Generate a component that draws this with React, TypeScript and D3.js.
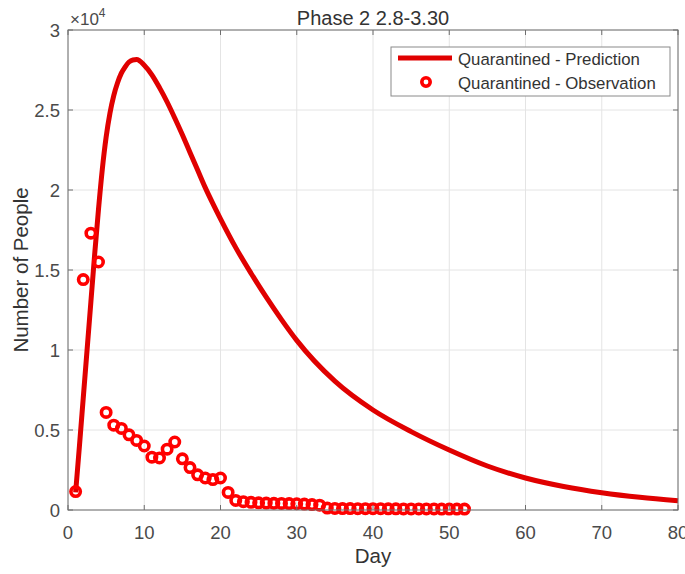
import React from "react";
import * as d3 from "d3";

// ---- data ----
const predDays = [1, 1.5, 2, 2.5, 3, 3.5, 4, 4.5, 5, 5.5, 6, 6.5, 7, 7.5, 8, 8.5, 9, 10, 11, 12, 13, 14, 15, 16, 17, 18, 19, 20, 22, 24, 26, 28, 30, 35, 40, 45, 50, 55, 60, 65, 70, 75, 80];
const predValues = [1100, 4000, 7000, 10000, 13000, 16000, 18800, 21300, 23300, 24800, 25900, 26700, 27300, 27700, 28000, 28130, 28150, 27800, 27200, 26400, 25500, 24500, 23450, 22350, 21250, 20150, 19150, 18200, 16400, 14800, 13300, 11900, 10600, 8050, 6250, 4900, 3750, 2750, 2000, 1470, 1080, 790, 580];

const obsDays = d3.range(1, 53);
const obsValues = [
  1150, 14400, 17300, 15500, 6100, 5300, 5100, 4700, 4350, 4000,
  3300, 3250, 3800, 4250, 3200, 2650, 2200, 2000, 1900, 2000,
  1100, 600, 520, 480, 450, 430, 420, 410, 400, 390,
  370, 340, 300, 120, 100, 90, 90, 85, 85, 80,
  80, 75, 75, 70, 70, 70, 65, 65, 60, 60,
  60, 60,
];

const xTicks = [0, 10, 20, 30, 40, 50, 60, 70, 80];
const yTicks = [0, 5000, 10000, 15000, 20000, 25000, 30000];
const yTickLabels = ["0", "0.5", "1", "1.5", "2", "2.5", "3"];

const titleText = "Phase 2 2.8-3.30";
const xLabel = "Day";
const yLabel = "Number of People";
const legendLabels = ["Quarantined - Prediction", "Quarantined - Observation"];

// ---- layout ----
const W = 685, H = 574;
const L = 68, R = 678, T = 30, B = 510;
const FONT = "'Liberation Sans', Arial, Helvetica, sans-serif";
const AX = "#6e6e6e";
const TXT = "#4a4a4a";
const LINE_RED = "#e00000";
const OBS_RED = "#ff0000";

export default function App() {
  const x = d3.scaleLinear().domain([0, 80]).range([L, R]);
  const y = d3.scaleLinear().domain([0, 30000]).range([B, T]);
  const line = d3
    .line<number>()
    .x((_, i) => x(predDays[i]))
    .y((d) => y(d))
    .curve(d3.curveMonotoneX);
  const tick = 5;

  return (
    <svg width={W} height={H} style={{ position: "absolute", left: 0, top: 0, background: "#fff" }} fontFamily={FONT}>
      <rect x={0} y={0} width={W} height={H} fill="#fff" />
      {/* grid */}
      {xTicks.map((t) => (
        <line key={"gx" + t} x1={x(t)} x2={x(t)} y1={T} y2={B} stroke="#e4e4e4" strokeWidth={1} />
      ))}
      {yTicks.map((t) => (
        <line key={"gy" + t} x1={L} x2={R} y1={y(t)} y2={y(t)} stroke="#e4e4e4" strokeWidth={1} />
      ))}
      {/* prediction */}
      <path d={line(predValues) || ""} fill="none" stroke={LINE_RED} strokeWidth={5} strokeLinejoin="round" />
      {/* observations */}
      {obsValues.map((v, i) => (
        <circle key={"o" + i} cx={x(obsDays[i])} cy={y(v)} r={4.7} fill="none" stroke={OBS_RED} strokeWidth={3.6} />
      ))}
      {/* box and ticks */}
      <rect x={L} y={T} width={R - L} height={B - T} fill="none" stroke={AX} strokeWidth={1} />
      {xTicks.map((t) => (
        <g key={"tx" + t}>
          <line x1={x(t)} x2={x(t)} y1={B} y2={B - tick} stroke={AX} />
          <line x1={x(t)} x2={x(t)} y1={T} y2={T + tick} stroke={AX} />
          <text x={x(t)} y={538.5} textAnchor="middle" fontSize={18.5} fill={TXT}>{t}</text>
        </g>
      ))}
      {yTicks.map((t, i) => (
        <g key={"ty" + t}>
          <line x1={L} x2={L + tick} y1={y(t)} y2={y(t)} stroke={AX} />
          <line x1={R} x2={R - tick} y1={y(t)} y2={y(t)} stroke={AX} />
          <text x={60} y={y(t) + 6.5} textAnchor="end" fontSize={18.5} fill={TXT}>{yTickLabels[i]}</text>
        </g>
      ))}
      {/* exponent */}
      <text x={70} y={25} fontSize={17} fill={TXT}>
        ×10<tspan dy={-8} fontSize={12}>4</tspan>
      </text>
      {/* title & labels */}
      <text x={(L + R) / 2} y={25} textAnchor="middle" fontSize={20} fill="#333">{titleText}</text>
      <text x={(L + R) / 2} y={563} textAnchor="middle" fontSize={20.5} fill="#333">{xLabel}</text>
      <text transform={`translate(28,${(T + B) / 2}) rotate(-90)`} textAnchor="middle" fontSize={20.5} fill="#333">{yLabel}</text>
      {/* legend */}
      <g>
        <rect x={391} y={47} width={279} height={49} fill="#fff" stroke="#8a8a8a" strokeWidth={1} />
        <line x1={398} x2={452} y1={58} y2={58} stroke={LINE_RED} strokeWidth={5} />
        <circle cx={426} cy={82} r={4.2} fill="none" stroke={OBS_RED} strokeWidth={3.6} />
        <text x={458} y={65} fontSize={16.8} fill="#333">{legendLabels[0]}</text>
        <text x={458} y={89} fontSize={16.8} fill="#333">{legendLabels[1]}</text>
      </g>
    </svg>
  );
}
